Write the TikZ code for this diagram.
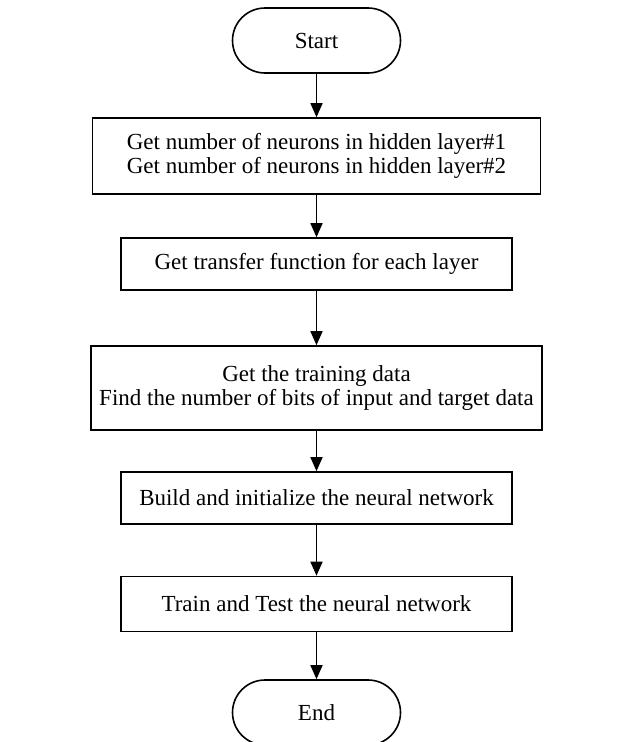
\documentclass[tikz,border=0pt]{standalone}
\usepackage{fontspec}
\setmainfont{Liberation Serif}
\usetikzlibrary{arrows.meta,shapes.misc}
\begin{document}
\begin{tikzpicture}[x=1pt,y=-1pt,
  every node/.style={font=\fontsize{23}{24}\selectfont, inner sep=0pt},
  box/.style={draw, line width=1.6pt, align=center},
  term/.style={draw, line width=1.6pt, rounded rectangle, minimum width=168pt, minimum height=65pt},
  arr/.style={line width=1.6pt, -{Triangle[length=14pt,width=12pt]}}]
\useasboundingbox (0,0) rectangle (619,742);
\clip (0,0) rectangle (619,742);
\node[term] (start) at (316.5,40.5) {Start};
\node[box, minimum width=448pt, minimum height=76pt] (b1) at (316.5,156)
  {Get number of neurons in hidden layer\#1\\Get number of neurons in hidden layer\#2};
\node[box, minimum width=391pt, minimum height=52pt] (b2) at (316.5,264)
  {Get transfer function for each layer};
\node[box, minimum width=451pt, minimum height=84pt] (b3) at (316.5,388)
  {Get the training data\\Find the number of bits of input and target data};
\node[box, minimum width=391pt, minimum height=52pt] (b4) at (316.5,498)
  {Build and initialize the neural network};
\node[box, minimum width=391pt, minimum height=55pt] (b5) at (316.5,604)
  {Train and Test the neural network};
\node[term] (end) at (316.5,712.5) {End};
\draw[arr] (start.south) -- (b1.north);
\draw[arr] (b1.south) -- (b2.north);
\draw[arr] (b2.south) -- (b3.north);
\draw[arr] (b3.south) -- (b4.north);
\draw[arr] (b4.south) -- (b5.north);
\draw[arr] (b5.south) -- (end.north);
\end{tikzpicture}
\end{document}
